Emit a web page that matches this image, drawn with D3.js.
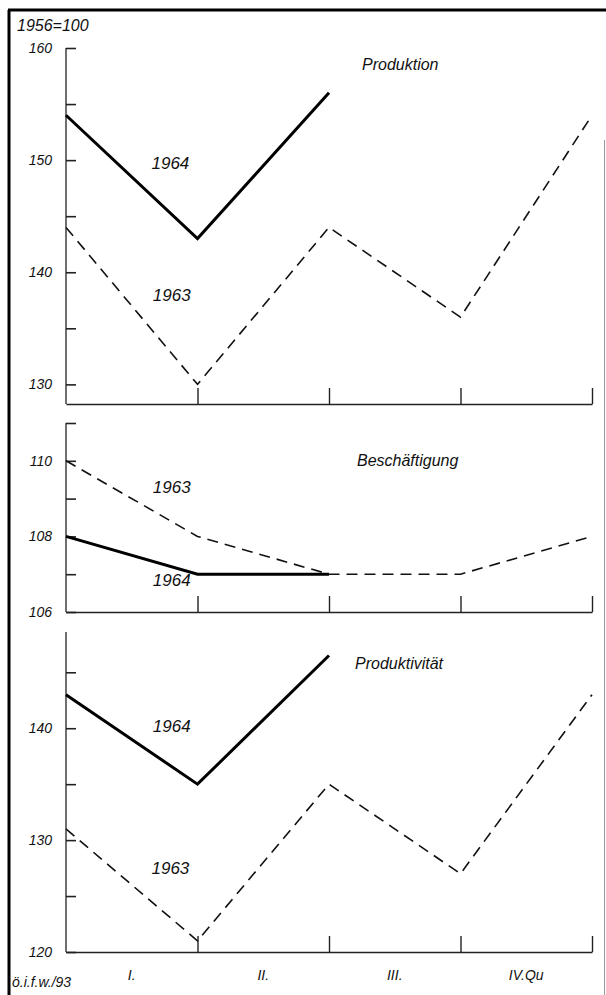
<!DOCTYPE html>
<html>
<head>
<meta charset="utf-8">
<script src="https://cdn.jsdelivr.net/npm/d3@7"></script>
<style>
  body { margin: 0; background: #fff; }
  svg text { font-family: "Liberation Sans", "DejaVu Sans", sans-serif; font-style: italic; fill: #111; }
</style>
</head>
<body>
<div id="chart"></div>
<script>
// quarter boundaries (points sit on them), quarter labels sit between
var points = [0, 1, 2, 3, 4];
var quarters = ["I.", "II.", "III.", "IV.Qu"];

// Produktion 1956=100
var prod1963 = [144, 130, 144, 136, 154];
var prod1964 = [154, 143, 156];
// Beschaeftigung
var besch1963 = [110, 108, 107, 107, 108];
var besch1964 = [108, 107, 107];
// Produktivitaet
var pv1963 = [131, 121, 135, 127, 143];
var pv1964 = [143, 135, 146.5];

var W = 606, H = 995;

var svg = d3.select("#chart").append("svg")
    .attr("width", W)
    .attr("height", H);

// scan frame
svg.append("line").attr("x1", 9).attr("y1", 10).attr("x2", 9).attr("y2", H)
    .attr("stroke", "#000").attr("stroke-width", 3);
svg.append("line").attr("x1", 8).attr("y1", 10).attr("x2", W).attr("y2", 10)
    .attr("stroke", "#000").attr("stroke-width", 3);
svg.append("line").attr("x1", 604.5).attr("y1", 140).attr("x2", 604.5).attr("y2", H)
    .attr("stroke", "#999").attr("stroke-width", 1);

var x = d3.scaleLinear().domain([0, 4]).range([66, 592]);

var panels = [
  { domain: [128.25, 160], range: [404, 48], ticks: d3.range(130, 161, 5), labels: [130, 140, 150, 160],
    s63: prod1963, s64: prod1964, title: "Produktion", titlePos: [362, 64],
    lab64: [0.65, 149.7], lab63: [0.66, 138] },
  { domain: [106, 111], range: [612, 423], ticks: d3.range(106, 112, 1), labels: [106, 108, 110],
    s63: besch1963, s64: besch1964, title: "Beschäftigung", titlePos: [357, 460],
    lab63: [0.66, 109.3], lab64: [0.66, 106.85] },
  { domain: [120, 148.6], range: [952, 632], ticks: d3.range(120, 146, 5), labels: [120, 130, 140],
    s63: pv1963, s64: pv1964, title: "Produktivität", titlePos: [355, 663],
    lab64: [0.66, 140.2], lab63: [0.65, 127.5] }
];

panels.forEach(function(p) {
  var y = d3.scaleLinear().domain(p.domain).range(p.range);
  var g = svg.append("g");

  // y axis: inner ticks, labels every 10 (every 2 for employment)
  var yAxis = d3.axisLeft(y)
      .tickValues(p.ticks)
      .tickSize(-10)
      .tickPadding(14)
      .tickFormat(function(d) { return p.labels.indexOf(d) >= 0 ? d : ""; });
  var ya = g.append("g")
      .attr("transform", "translate(" + x(0) + ",0)")
      .call(yAxis);
  ya.select(".domain").attr("d", "M0," + p.range[0] + "V" + p.range[1])
      .attr("stroke", "#222").attr("stroke-width", 1.3);
  ya.selectAll(".tick line").attr("stroke", "#222").attr("stroke-width", 1.6);
  ya.selectAll(".tick text").attr("font-size", 14).style("font-family", "Liberation Sans").style("font-style", "italic");

  // x axis: baseline with upward ticks at quarter boundaries
  var xAxis = d3.axisBottom(x)
      .tickValues([1, 2, 3, 4])
      .tickSize(-16)
      .tickSizeOuter(0)
      .tickFormat("");
  var xa = g.append("g")
      .attr("transform", "translate(0," + p.range[0] + ")")
      .call(xAxis);
  xa.select(".domain").attr("stroke", "#222").attr("stroke-width", 1.3);
  xa.selectAll(".tick line").attr("stroke", "#222").attr("stroke-width", 1.4);

  var line = d3.line()
      .x(function(d, i) { return x(points[i]); })
      .y(function(d) { return y(d); });

  g.append("path")
      .datum(p.s63)
      .attr("fill", "none")
      .attr("stroke", "#111")
      .attr("stroke-width", 1.6)
      .attr("stroke-dasharray", "11,7")
      .attr("d", line);

  g.append("path")
      .datum(p.s64)
      .attr("fill", "none")
      .attr("stroke", "#000")
      .attr("stroke-width", 3)
      .attr("stroke-linejoin", "miter")
      .attr("d", line);

  g.append("text")
      .attr("x", p.titlePos[0])
      .attr("y", p.titlePos[1])
      .attr("dy", "0.35em")
      .attr("font-size", 16)
      .text(p.title);

  g.append("text")
      .attr("x", x(p.lab64[0]))
      .attr("y", y(p.lab64[1]))
      .attr("dy", "0.35em")
      .attr("font-size", 17)
      .text("1964");

  g.append("text")
      .attr("x", x(p.lab63[0]))
      .attr("y", y(p.lab63[1]))
      .attr("dy", "0.35em")
      .attr("font-size", 17)
      .text("1963");
});

// quarter labels under the last panel
svg.selectAll(".qlabel")
    .data(quarters)
    .enter().append("text")
    .attr("class", "qlabel")
    .attr("x", function(d, i) { return x(i + 0.5); })
    .attr("y", 975)
    .attr("dy", "0.35em")
    .attr("text-anchor", "middle")
    .attr("font-size", 14)
    .text(function(d) { return d; });

svg.append("text")
    .attr("x", 17).attr("y", 25).attr("dy", "0.35em")
    .attr("font-size", 16)
    .text("1956=100");

svg.append("text")
    .attr("x", 12).attr("y", 982).attr("dy", "0.35em")
    .attr("font-size", 14)
    .text("ö.i.f.w./93");
</script>
</body>
</html>
